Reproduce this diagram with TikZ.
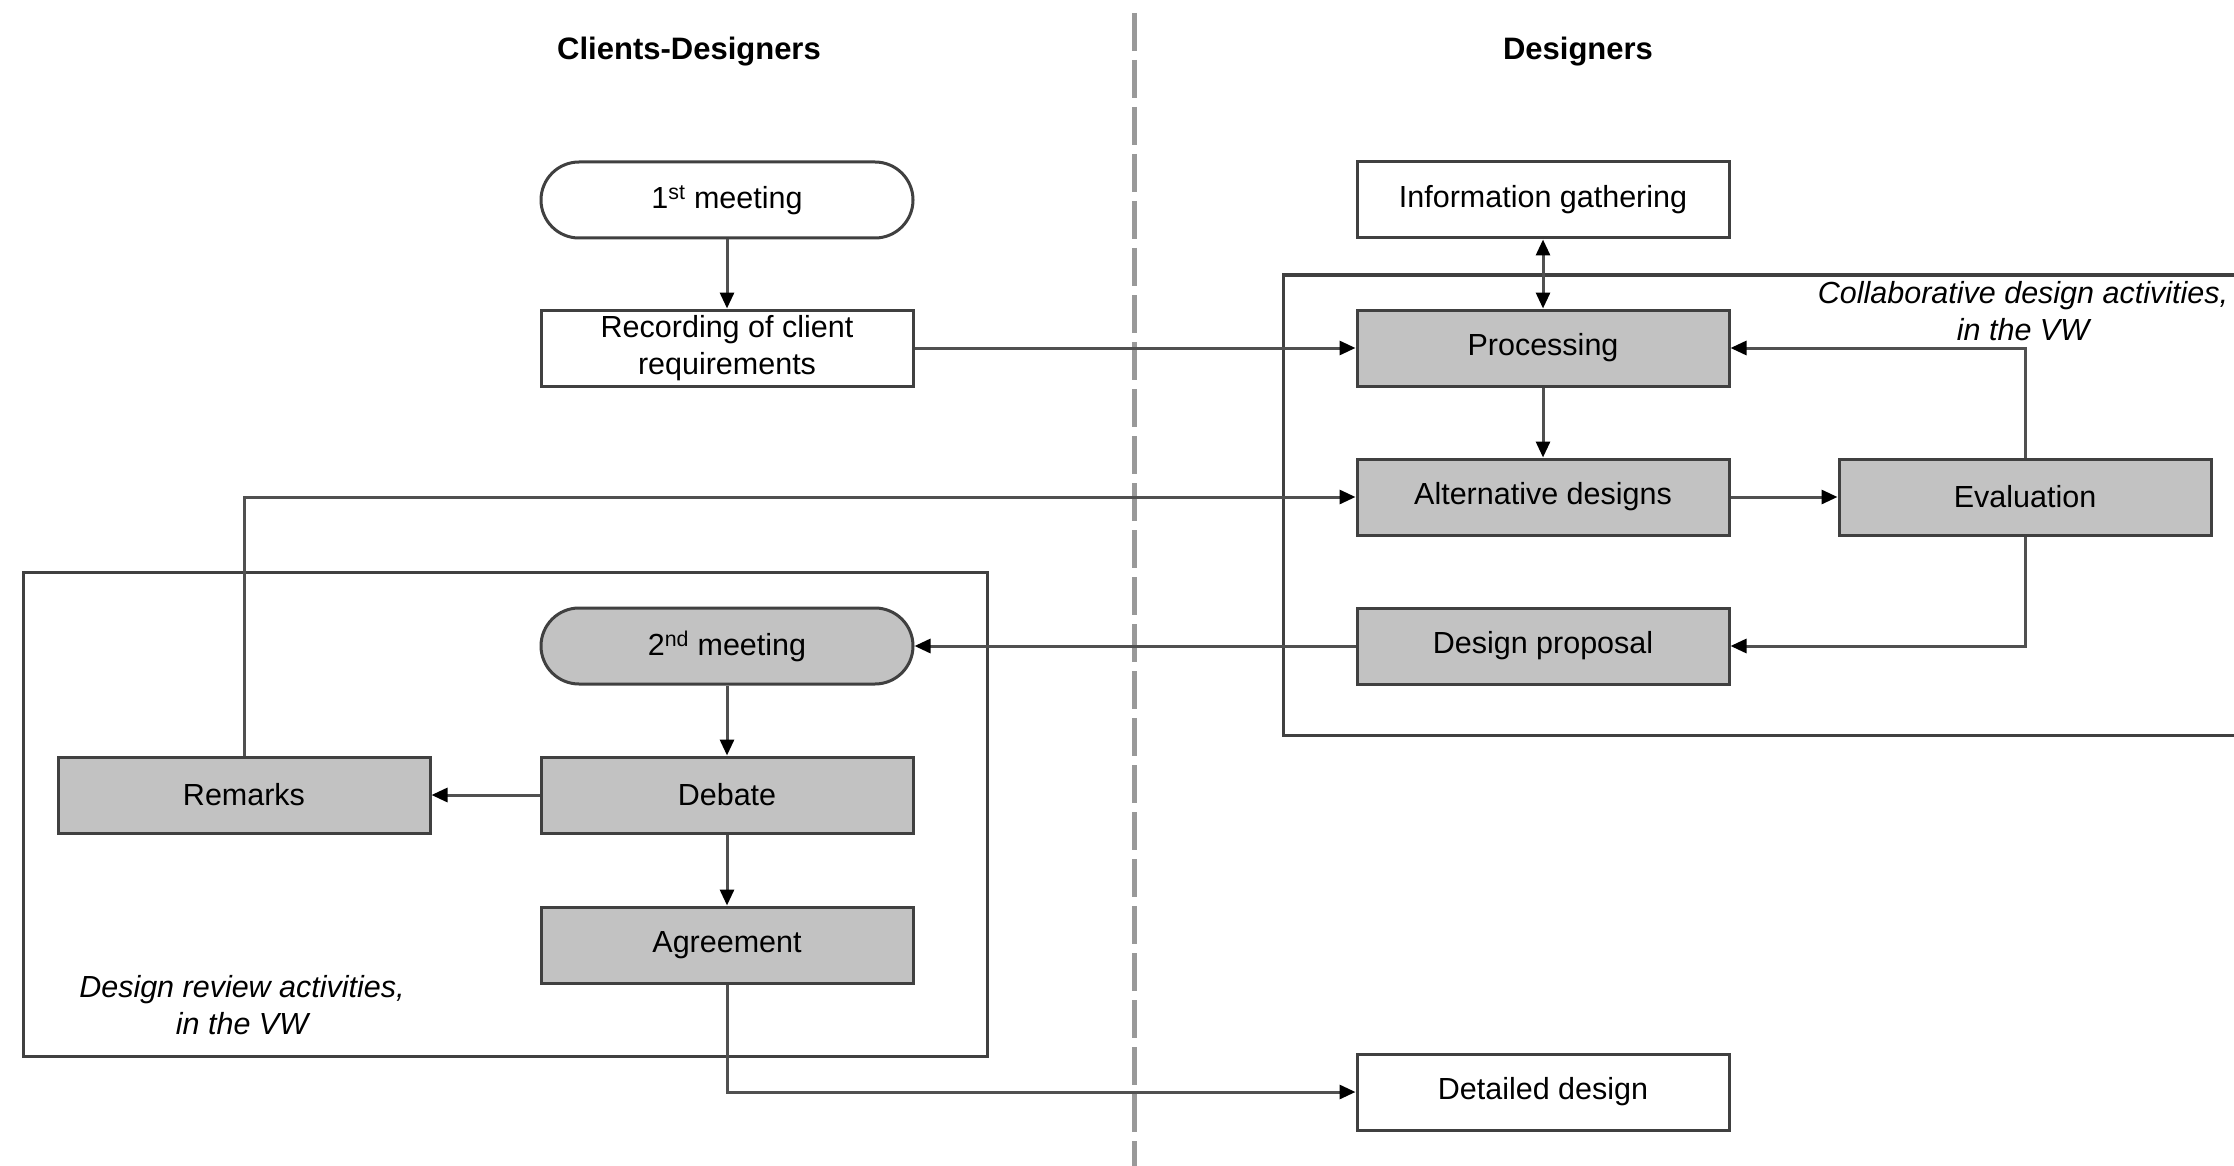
\documentclass[tikz,border=0pt]{standalone}
\usepackage{fontspec}
\setmainfont{Liberation Sans}
\usetikzlibrary{arrows.meta}
\definecolor{boxfill}{HTML}{C2C2C2}
\definecolor{boxline}{HTML}{404040}
\definecolor{linkc}{HTML}{505050}
\definecolor{divc}{HTML}{999999}
\begin{document}
\begin{tikzpicture}[x=1pt,y=-1pt,
  base/.style={draw=boxline, line width=3pt, minimum width=372pt, minimum height=76pt, inner sep=0pt, align=center, font=\fontsize{30.5}{36.5}\selectfont},
  plainbox/.style={base, fill=white},
  actbox/.style={base, fill=boxfill},
  meet/.style={rounded corners=38pt},
  link/.style={draw=linkc, line width=3pt},
  arr/.style={link, -{Triangle[length=16pt,width=14pt,color=black]}},
  darr/.style={link, {Triangle[length=16pt,width=14pt,color=black]}-{Triangle[length=16pt,width=14pt,color=black]}},
  frame/.style={draw=boxline, line width=3pt},
  lab/.style={font=\fontsize{30.5}{37}\selectfont\itshape, align=center},
  head/.style={font=\fontsize{31}{36}\selectfont\bfseries}
]
\useasboundingbox (0,0) rectangle (2234,1166);
\fill[white] (0,0) rectangle (2234,1166);
\begin{scope}
\clip (0,0) rectangle (2234,1166);
% divider
\coordinate (dtop) at (1134,13);
\coordinate (dbot) at (1134,1170);
\draw[divc, line width=5pt, dash pattern=on 38pt off 9pt] (dtop) -- (dbot);
% activity frames
\draw[frame] (2260,275) -- (1283,275) -- (1283,735) -- (2260,735);
\draw[frame] (23,572) rectangle (987,1056);
\end{scope}

% headers
\node[head] (h1) at (689,52) {Clients-Designers};
\node[head] (h2) at (1578,52) {Designers};

% nodes
\node[plainbox, meet] (m1) at (727,200) {1\textsuperscript{st} meeting};
\node[plainbox] (rec) at (727,348) {Recording of client\\requirements};
\node[actbox, meet] (m2) at (727,646) {2\textsuperscript{nd} meeting};
\node[actbox] (deb) at (727,795) {Debate};
\node[actbox] (agr) at (727,945) {Agreement};
\node[actbox] (rem) at (244,795) {Remarks};
\node[plainbox] (info) at (1543,200) {Information gathering};
\node[actbox] (proc) at (1543,348) {Processing};
\node[actbox] (alt) at (1543,497) {Alternative designs};
\node[actbox] (eval) at (2025,497) {Evaluation};
\node[actbox] (prop) at (1543,646) {Design proposal};
\node[plainbox] (det) at (1543,1092) {Detailed design};

% labels
\node[lab] (collab) at (2023,311) {Collaborative design activities,\\in the VW};
\node[lab] (review) at (242,1005) {Design review activities,\\in the VW};

% connectors
\draw[arr] (m1) -- (rec);
\draw[arr] (rec) -- (proc);
\draw[darr] (info) -- (proc);
\draw[arr] (proc) -- (alt);
\draw[arr] (alt) -- (eval);
\draw[arr] (eval.north) |- (proc.east);
\draw[arr] (eval.south) |- (prop.east);
\draw[arr] (prop) -- (m2);
\draw[arr] (m2) -- (deb);
\draw[arr] (deb) -- (rem);
\draw[arr] (deb) -- (agr);
\draw[arr] (rem.north) |- (alt.west);
\draw[arr] (agr.south) |- (det.west);
\end{tikzpicture}
\end{document}
